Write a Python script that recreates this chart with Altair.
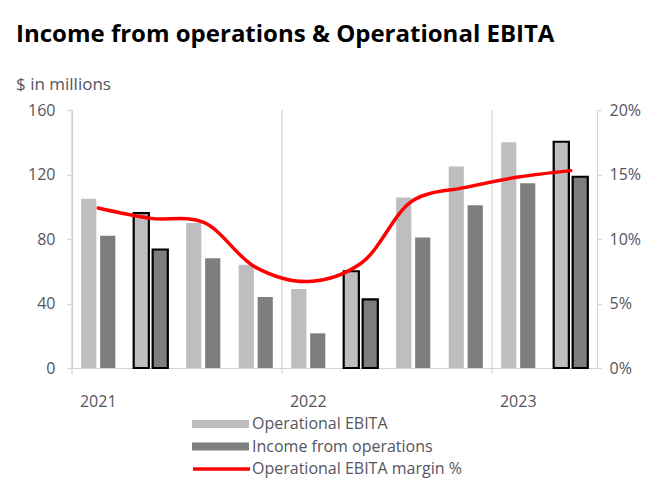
import altair as alt
import pandas as pd

quarters = ["2021 Q1", "2021 Q2", "2021 Q3", "2021 Q4",
            "2022 Q1", "2022 Q2", "2022 Q3", "2022 Q4",
            "2023 Q1", "2023 Q2"]
operational_ebita = [105, 96, 90, 64, 49, 60, 105.7, 125, 140, 140.3]
income_from_ops = [82, 73.5, 68, 44, 21.5, 42.5, 81, 101, 114.6, 118.6]
ebita_margin_pct = [12.4, 11.6, 11.3, 7.8, 6.7, 8.1, 13.0, 14.0, 14.8, 15.3]
outlined_quarters = ["2021 Q2", "2022 Q2", "2023 Q2"]
year_start_quarters = ["2021 Q1", "2022 Q1", "2023 Q1"]

series_names = ["Operational EBITA", "Income from operations"]
margin_name = "Operational EBITA margin %"

LIGHT = "#C0BDC1"
DARK = "#7D7E7E"
TXT = "#555560"
AXC = "#D3D3D3"
FONT = "Open Sans"

rows = []
for q, e, i in zip(quarters, operational_ebita, income_from_ops):
    rows.append({"Quarter": q, "Series": series_names[0], "Value": e,
                 "Outlined": q in outlined_quarters})
    rows.append({"Quarter": q, "Series": series_names[1], "Value": i,
                 "Outlined": q in outlined_quarters})
bars_df = pd.DataFrame(rows)
line_df = pd.DataFrame({"Quarter": quarters, "Margin": ebita_margin_pct,
                        "Metric": [margin_name] * len(quarters)})
sep_df = pd.DataFrame({"Quarter": year_start_quarters})

x_axis = alt.Axis(
    title=None, labelAngle=0, ticks=False, grid=False,
    labelExpr="indexof(datum.label, 'Q1') >= 0 ? slice(datum.label, 0, 4) : ''",
    domainColor=AXC, domainWidth=1.2,
    labelColor=TXT, labelFont=FONT, labelFontSize=16, labelPadding=25,
)
x_scale = alt.Scale(paddingInner=0.35, paddingOuter=0.175)

bar_legend = alt.Legend(
    title=None, orient="none", legendX=120, legendY=306,
    symbolType="M-1,-0.14L1,-0.14L1,0.14L-1,0.14Z", symbolSize=3249,
    symbolStrokeWidth=0, clipHeight=16, rowPadding=6.5, labelOffset=3,
    labelLimit=400,
    labelColor=TXT, labelFont=FONT, labelFontSize=16, padding=0,
)
line_legend = alt.Legend(
    title=None, orient="none", legendX=119, legendY=351,
    symbolType="stroke", symbolSize=3249, symbolStrokeWidth=3.5,
    clipHeight=16, labelOffset=0, labelLimit=400,
    labelColor=TXT, labelFont=FONT, labelFontSize=16, padding=0,
)

separators = alt.Chart(sep_df).mark_rule(color=AXC, strokeWidth=1.2, xOffset=-9.2).encode(
    x=alt.X("Quarter:N", sort=quarters, axis=x_axis, scale=x_scale, bandPosition=0),
    y=alt.value(0),
    y2=alt.value(264),
)

bars = alt.Chart(bars_df).mark_bar(stroke="black").encode(
    x=alt.X("Quarter:N", sort=quarters, axis=x_axis, scale=x_scale),
    xOffset=alt.XOffset("Series:N", sort=series_names,
                        scale=alt.Scale(paddingInner=0.2, paddingOuter=0)),
    y=alt.Y("Value:Q", scale=alt.Scale(domain=[0, 160], nice=False),
            axis=alt.Axis(title=None, values=[0, 40, 80, 120, 160], grid=False,
                          domainColor=AXC, domainWidth=1.2, tickColor=AXC,
                          tickSize=5, tickWidth=1.2, labelPadding=12,
                          labelColor=TXT, labelFont=FONT, labelFontSize=16)),
    fill=alt.Fill("Series:N", sort=series_names,
                  scale=alt.Scale(domain=series_names, range=[LIGHT, DARK]),
                  legend=bar_legend),
    strokeWidth=alt.condition("datum.Outlined", alt.value(2.2), alt.value(0)),
)

line = alt.Chart(line_df).mark_line(interpolate="catmull-rom", strokeWidth=3.5,
                                    strokeCap="round").encode(
    x=alt.X("Quarter:N", sort=quarters, axis=x_axis, scale=x_scale),
    y=alt.Y("Margin:Q", scale=alt.Scale(domain=[0, 20], nice=False),
            axis=alt.Axis(title=None, orient="right", values=[0, 5, 10, 15, 20],
                          labelExpr="datum.value + '%'", grid=False,
                          domainColor=AXC, domainWidth=1.2, tickColor=AXC,
                          tickSize=4, tickWidth=1.2, labelPadding=8,
                          labelColor=TXT, labelFont=FONT, labelFontSize=16)),
    stroke=alt.Stroke("Metric:N", scale=alt.Scale(domain=[margin_name], range=["#FF0000"]),
                      legend=line_legend),
)

chart = alt.layer(separators, bars, line).resolve_scale(y="independent").properties(
    width=525, height=258,
    padding={"left": 8, "top": 15, "right": 5, "bottom": 5},
    title=alt.TitleParams(
        text="Income from operations & Operational EBITA",
        subtitle="$ in millions",
        anchor="start", frame="group", dx=-56,
        font=FONT, fontSize=24, fontWeight="bold", color="#000000",
        subtitleFont=FONT, subtitleFontSize=17, subtitleColor=TXT,
        subtitlePadding=30, offset=9,
    ),
).configure_view(stroke=None)

chart.save("out.html", embed_options={"renderer": "svg", "actions": False})
